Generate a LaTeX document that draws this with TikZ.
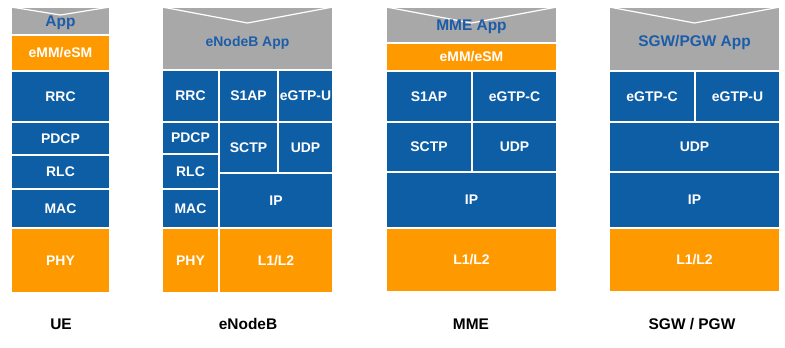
\documentclass[tikz,border=0pt]{standalone}
\usepackage{fontspec}
\setmainfont{Liberation Sans}
\usetikzlibrary{calc}
\definecolor{cblue}{RGB}{14,94,166}
\definecolor{corange}{RGB}{255,153,0}
\definecolor{cgray}{RGB}{168,168,168}
\definecolor{ctext}{RGB}{28,92,168}
\newcommand\cellbox[7]{\node[#6, anchor=north west, minimum width={(#4-#2)*1bp}, minimum height={(#5-#3)*1bp}] (#1) at (#2,#3) {#7};}
\tikzset{
  cell/.style={draw=white, line width=1.2pt, inner sep=0pt, outer sep=0pt, text=white, font=\bfseries\fontsize{14}{14}\selectfont},
  bluecell/.style={cell, fill=cblue},
  orcell/.style={cell, fill=corange},
  graycell/.style={cell, fill=cgray},
  apptext/.style={text=ctext, font=\bfseries\fontsize{15.5}{15.5}\selectfont},
  vline/.style={draw=white, line width=1.2pt},
  lbl/.style={text=black, font=\bfseries\fontsize{15.5}{15.5}\selectfont}
}
\begin{document}
\begin{tikzpicture}[x=1bp, y=-1bp]
\useasboundingbox[fill=white] (0,0) rectangle (785,347);
% UE
\cellbox{ueapp}{11}{7}{110}{35}{graycell}{}
\cellbox{ueemm}{11}{35}{110}{71}{orcell}{eMM/eSM}
\cellbox{uerrc}{11}{71}{110}{122}{bluecell}{RRC}
\cellbox{uepdcp}{11}{122}{110}{155}{bluecell}{PDCP}
\cellbox{uerlc}{11}{155}{110}{189}{bluecell}{RLC}
\cellbox{uemac}{11}{189}{110}{228}{bluecell}{MAC}
\cellbox{uephy}{11}{228}{110}{293}{orcell}{PHY}
\draw[vline] (ueapp.north west) -- ($(ueapp.north)+(0,8)$) -- (ueapp.north east);
\node[apptext] (ueappt) at ($(ueapp.center)+(0,2)$) {App};
% eNodeB
\cellbox{enbapp}{162}{7}{333}{70}{graycell}{}
\cellbox{enbrrc}{162}{70}{219}{122}{bluecell}{RRC}
\cellbox{enbpdcp}{162}{122}{219}{154}{bluecell}{PDCP}
\cellbox{enbrlc}{162}{154}{219}{189}{bluecell}{RLC}
\cellbox{enbmac}{162}{189}{219}{228}{bluecell}{MAC}
\cellbox{enbphy}{162}{228}{219}{293}{orcell}{PHY}
\cellbox{enbs1ap}{219}{70}{278}{122}{bluecell}{S1AP}
\cellbox{enbgtpu}{278}{70}{333}{122}{bluecell}{eGTP-U}
\cellbox{enbsctp}{219}{122}{278}{173}{bluecell}{SCTP}
\cellbox{enbudp}{278}{122}{333}{173}{bluecell}{UDP}
\cellbox{enbip}{219}{173}{333}{228}{bluecell}{IP}
\cellbox{enbl12}{219}{228}{333}{293}{orcell}{L1/L2}
\draw[vline] (enbapp.north west) -- ($(enbapp.north)+(0,16)$) -- (enbapp.north east);
\node[apptext, font=\bfseries\fontsize{14}{14}\selectfont] (enbappt) at ($(enbapp.center)+(0,4)$) {eNodeB App};
% MME
\cellbox{mmeapp}{386}{7}{557}{43}{graycell}{}
\cellbox{mmeemm}{386}{43}{557}{71}{orcell}{eMM/eSM}
\cellbox{mmes1ap}{386}{71}{472}{122}{bluecell}{S1AP}
\cellbox{mmegtpc}{472}{71}{557}{122}{bluecell}{eGTP-C}
\cellbox{mmesctp}{386}{122}{472}{172}{bluecell}{SCTP}
\cellbox{mmeudp}{472}{122}{557}{172}{bluecell}{UDP}
\cellbox{mmeip}{386}{172}{557}{228}{bluecell}{IP}
\cellbox{mmel12}{386}{228}{557}{292}{orcell}{L1/L2}
\draw[vline] (mmeapp.north west) -- ($(mmeapp.north)+(0,16)$) -- (mmeapp.north east);
\node[apptext] (mmeappt) at ($(mmeapp.center)+(0,2)$) {MME App};
% SGW/PGW
\cellbox{gwapp}{609}{7}{780}{71}{graycell}{}
\cellbox{gwgtpc}{609}{71}{695}{122}{bluecell}{eGTP-C}
\cellbox{gwgtpu}{695}{71}{780}{122}{bluecell}{eGTP-U}
\cellbox{gwudp}{609}{122}{780}{172}{bluecell}{UDP}
\cellbox{gwip}{609}{172}{780}{228}{bluecell}{IP}
\cellbox{gwl12}{609}{228}{780}{292}{orcell}{L1/L2}
\draw[vline] (gwapp.north west) -- ($(gwapp.north)+(0,16)$) -- (gwapp.north east);
\node[apptext] (gwappt) at ($(gwapp.center)+(0,4)$) {SGW/PGW App};
% labels
\node[lbl] (lue) at (61,324) {UE};
\node[lbl] (lenb) at (248,324) {eNodeB};
\node[lbl] (lmme) at (471,324) {MME};
\node[lbl] (lgw) at (692,324) {SGW / PGW};
\end{tikzpicture}
\end{document}
